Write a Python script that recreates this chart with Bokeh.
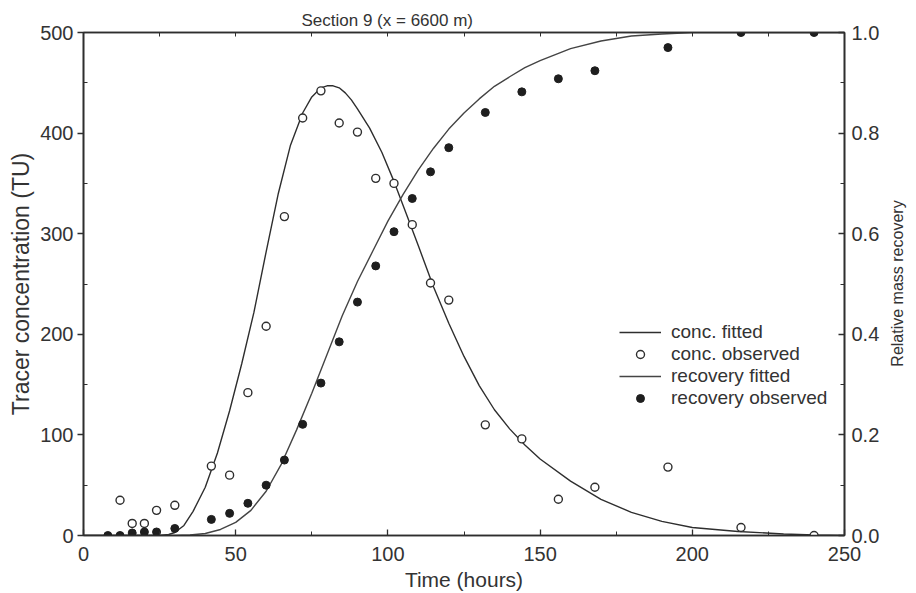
import math
from bokeh.plotting import figure
from bokeh.layouts import row
from bokeh.core.properties import value
from bokeh.models import (Range1d, LinearAxis, FixedTicker, NumeralTickFormatter,
                          Legend, LegendItem)
from bokeh.embed import file_html
from bokeh.resources import INLINE

# ---- observed data ----
conc_t = [12, 16, 20, 24, 30, 42, 48, 54, 60, 66, 72, 78, 84, 90, 96, 102, 108, 114,
          120, 132, 144, 156, 168, 192, 216, 240]
conc_obs = [35, 12, 12, 25, 30, 69, 60, 142, 208, 317, 415, 442, 410, 401, 355, 350, 309,
            251, 234, 110, 96, 36, 48, 68, 8, 0]

rec_t = [8, 12, 16, 20, 24, 30, 42, 48, 54, 60, 66, 72, 78, 84, 90, 96, 102, 108, 114,
         120, 132, 144, 156, 168, 192, 216, 240]
rec_obs = [0.0, 0.0, 0.005, 0.007, 0.007, 0.014, 0.032, 0.044, 0.064, 0.10, 0.15, 0.221,
           0.303, 0.385, 0.464, 0.536, 0.604, 0.67, 0.723, 0.771, 0.841, 0.882, 0.908,
           0.924, 0.97, 1.0, 1.0]

# ---- fitted curves ----
conc_fit_t = [0, 25, 28, 30, 33, 36, 40, 44, 48, 52, 56, 60, 64, 68, 72, 75, 78, 80, 82,
              84, 86, 88, 90, 94, 98, 102, 106, 110, 115, 120, 125, 130, 135, 140, 145,
              150, 160, 170, 180, 190, 200, 215, 230, 240, 250]
conc_fit = [0, 0, 1, 3, 10, 24, 48, 82, 124, 171, 222, 282, 340, 388, 420, 436, 445, 447,
            447, 445, 440, 433, 424, 405, 381, 352, 320, 288, 247, 211, 178, 149, 125,
            106, 90, 76, 54, 36, 23, 14, 8, 4, 1.5, 0.5, 0]

rec_fit_t = [0, 30, 35, 40, 45, 50, 55, 60, 65, 70, 75, 80, 85, 90, 95, 100, 105, 110, 115,
             120, 125, 130, 135, 140, 145, 150, 160, 170, 180, 190, 200, 250]
rec_fit = [0, 0, 0.001, 0.004, 0.012, 0.026, 0.05, 0.088, 0.142, 0.21, 0.283, 0.36, 0.437,
           0.505, 0.565, 0.625, 0.678, 0.727, 0.77, 0.808, 0.84, 0.868, 0.893, 0.912, 0.93,
           0.944, 0.968, 0.983, 0.993, 0.997, 1.0, 1.0]

x_ticks = [0, 50, 100, 150, 200, 250]
x_minor = [25, 75, 125, 175, 225]
top_minor = [0, 25, 50, 75, 100, 125, 150, 175, 200, 225, 250]
y_ticks = [0, 100, 200, 300, 400, 500]
y_minor = [50, 150, 250, 350, 450]
r_ticks = [0.0, 0.2, 0.4, 0.6, 0.8, 1.0]
r_minor = [0.1, 0.3, 0.5, 0.7, 0.9]
right_title = "Relative mass recovery"

FONT = "Liberation Sans"
INK = "#2e2e2e"
TXT = "#333333"

p = figure(frame_width=761, frame_height=503,
           x_range=Range1d(0, 250), y_range=Range1d(0, 500),
           output_backend="svg", toolbar_location=None,
           min_border_left=83, min_border_right=38, min_border_top=32, min_border_bottom=57)
p.extra_y_ranges = {"rec": Range1d(0, 1.0)}
p.xgrid.visible = False
p.ygrid.visible = False
p.outline_line_color = INK
p.outline_line_width = 1.6
p.background_fill_color = "white"
p.border_fill_color = "white"

p.title.text = "Section 9  (x = 6600 m)"
p.title.text_font = FONT
p.title.text_font_size = "17px"
p.title.text_font_style = "normal"
p.title.text_color = TXT
p.title.align = "left"
p.title.offset = 218
p.title.standoff = 5

def style_axis(ax, ticks, minor):
    ax.ticker = FixedTicker(ticks=ticks, minor_ticks=minor)
    ax.axis_line_color = INK
    ax.axis_line_width = 1.6
    ax.major_tick_line_color = INK
    ax.major_tick_line_width = 1.3
    ax.minor_tick_line_color = INK
    ax.major_label_text_font = FONT
    ax.major_label_text_font_size = "20px"
    ax.major_label_text_color = TXT
    ax.axis_label_text_font = FONT
    ax.axis_label_text_font_style = "normal"
    ax.axis_label_text_color = TXT

xa = p.xaxis[0]
style_axis(xa, x_ticks, x_minor)
xa.axis_label = "Time (hours)"
xa.axis_label_text_font_size = "21px"
xa.major_tick_in = 6
xa.major_tick_out = 0
xa.minor_tick_in = 4
xa.minor_tick_out = 0
xa.major_label_standoff = 11
xa.axis_label_standoff = 4

ya = p.yaxis[0]
style_axis(ya, y_ticks, y_minor)
ya.axis_label = "Tracer concentration (TU)"
ya.axis_label_text_font_size = "23px"
ya.major_tick_in = 0
ya.major_tick_out = 6
ya.minor_tick_in = 4
ya.minor_tick_out = 0
ya.major_label_standoff = 4
ya.axis_label_standoff = 3

ra = LinearAxis(y_range_name="rec")
style_axis(ra, r_ticks, r_minor)
ra.formatter = NumeralTickFormatter(format="0.0")
ra.major_tick_in = 6
ra.major_tick_out = 0
ra.minor_tick_in = 4
ra.minor_tick_out = 0
ra.major_label_standoff = 7
p.add_layout(ra, "right")

# top frame edge carries small inward ticks only (no labels)
ta = LinearAxis()
ta.ticker = FixedTicker(ticks=[], minor_ticks=top_minor)
ta.axis_line_color = INK
ta.axis_line_width = 1.6
ta.minor_tick_line_color = INK
ta.minor_tick_in = 4
ta.minor_tick_out = 0
ta.major_label_standoff = 0
p.add_layout(ta, "above")

r1 = p.line(conc_fit_t, conc_fit, line_color=INK, line_width=1.4)
r2 = p.scatter(conc_t, conc_obs, marker="circle", size=8, fill_color="white",
               line_color=INK, line_width=1.4)
r3 = p.line(rec_fit_t, rec_fit, y_range_name="rec", line_color="#444444", line_width=1.4)
r4 = p.scatter(rec_t, rec_obs, y_range_name="rec", marker="circle", size=8,
               fill_color="#1e1e1e", line_color="#1e1e1e")

legend = Legend(items=[LegendItem(label="conc. fitted", renderers=[r1]),
                       LegendItem(label="conc. observed", renderers=[r2]),
                       LegendItem(label="recovery fitted", renderers=[r3]),
                       LegendItem(label="recovery observed", renderers=[r4])],
                location=(536, 126), orientation="vertical")
legend.border_line_color = None
legend.background_fill_alpha = 0
legend.padding = 0
legend.margin = 0
legend.spacing = 0
legend.glyph_width = 42
legend.glyph_height = 20
legend.label_height = 20
legend.label_standoff = 10
legend.label_text_font = FONT
legend.label_text_font_size = "19px"
legend.label_text_color = TXT
p.add_layout(legend, "center")

# narrow strip on the right carrying the right-hand axis title (reads bottom-to-top)
q = figure(width=30, height=592, x_range=Range1d(0, 1), y_range=Range1d(0, 1),
           output_backend="svg", toolbar_location=None,
           x_axis_type=None, y_axis_type=None,
           min_border_left=0, min_border_right=0, min_border_top=0, min_border_bottom=0)
q.outline_line_color = None
q.background_fill_color = "white"
q.border_fill_color = "white"
q.text(x=[0.5], y=[0.5], text=[right_title], angle=math.pi / 2,
       text_align="center", text_baseline="middle",
       text_font=value(FONT), text_font_size=value("16px"), text_color=TXT)

layout = row(p, q, spacing=0)

open("out.html", "w").write(file_html(layout, INLINE))
